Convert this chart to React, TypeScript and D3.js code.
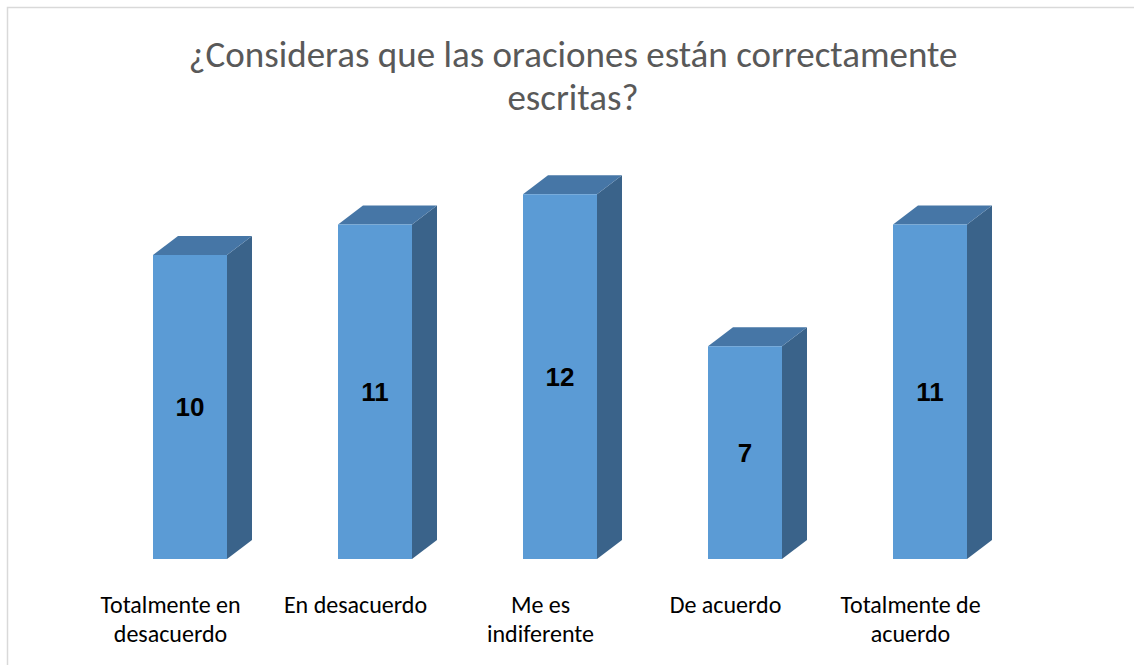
import React from "react";
import * as d3 from "d3";

const WIDTH = 1134;
const HEIGHT = 665;

const categories = [
  "Totalmente en desacuerdo",
  "En desacuerdo",
  "Me es indiferente",
  "De acuerdo",
  "Totalmente de acuerdo",
];
const labelLines = [
  ["Totalmente en", "desacuerdo"],
  ["En desacuerdo"],
  ["Me es", "indiferente"],
  ["De acuerdo"],
  ["Totalmente de", "acuerdo"],
];
const values = [10, 11, 12, 7, 11];
const titleLines = ["¿Consideras que las oraciones están correctamente", "escritas?"];

const FRONT = "#5b9bd5";
const TOP = "#4676a6";
const SIDE = "#3a638a";
const DX = 25;
const DY = -19;
const FONT = "Carlito, Calibri, Lato, sans-serif";

export default function App() {
  const x = d3
    .scaleBand()
    .domain(categories)
    .range([60.5, 1059.5])
    .paddingInner(0.6)
    .paddingOuter(0.5);

  const y = d3.scaleLinear().domain([0, 10]).range([559, 255]);
  const bw = x.bandwidth();

  const bars = categories.map((c, i) => {
    const x0 = x(c) ?? 0;
    const x1 = x0 + bw;
    const yt = y(values[i]);
    const yb = y(0);
    const front = `M${x0},${yt}L${x1},${yt}L${x1},${yb}L${x0},${yb}Z`;
    const top = `M${x0},${yt}L${x0 + DX},${yt + DY}L${x1 + DX},${yt + DY}L${x1},${yt}Z`;
    const side = `M${x1},${yt}L${x1 + DX},${yt + DY}L${x1 + DX},${yb + DY}L${x1},${yb}Z`;
    return (
      <g key={c}>
        <path d={side} fill={SIDE} />
        <path d={top} fill={TOP} />
        <path d={front} fill={FRONT} />
        <text
          x={x0 + bw / 2}
          y={(yt + yb) / 2}
          dy="0.36em"
          textAnchor="middle"
          fontFamily="'Liberation Sans', Arial, sans-serif"
          fontWeight="bold"
          fontSize={26}
          fill="#000"
        >
          {values[i]}
        </text>
      </g>
    );
  });

  const labels = categories.map((c, i) => {
    const cx = (x(c) ?? 0) + bw / 2 - 19.5;
    return (
      <text key={c} textAnchor="middle" fontFamily={FONT} fontSize={24} fill="#000">
        {labelLines[i].map((l, j) => (
          <tspan key={j} x={cx} y={613 + j * 29}>
            {l}
          </tspan>
        ))}
      </text>
    );
  });

  return (
    <div style={{ position: "absolute", left: 0, top: 0 }}>
      <svg width={WIDTH} height={HEIGHT} style={{ display: "block" }}>
        <rect width={WIDTH} height={HEIGHT} fill="#fff" />
        <rect x={7.5} y={7.5} width={WIDTH + 10} height={HEIGHT + 10} fill="none" stroke="#d9d9d9" strokeWidth={1.5} />
        <text textAnchor="middle" fontFamily={FONT} fontSize={37} fill="#595959">
          {titleLines.map((l, j) => (
            <tspan key={j} x={573} y={67 + j * 43}>
              {l}
            </tspan>
          ))}
        </text>
        {bars}
        {labels}
      </svg>
    </div>
  );
}
